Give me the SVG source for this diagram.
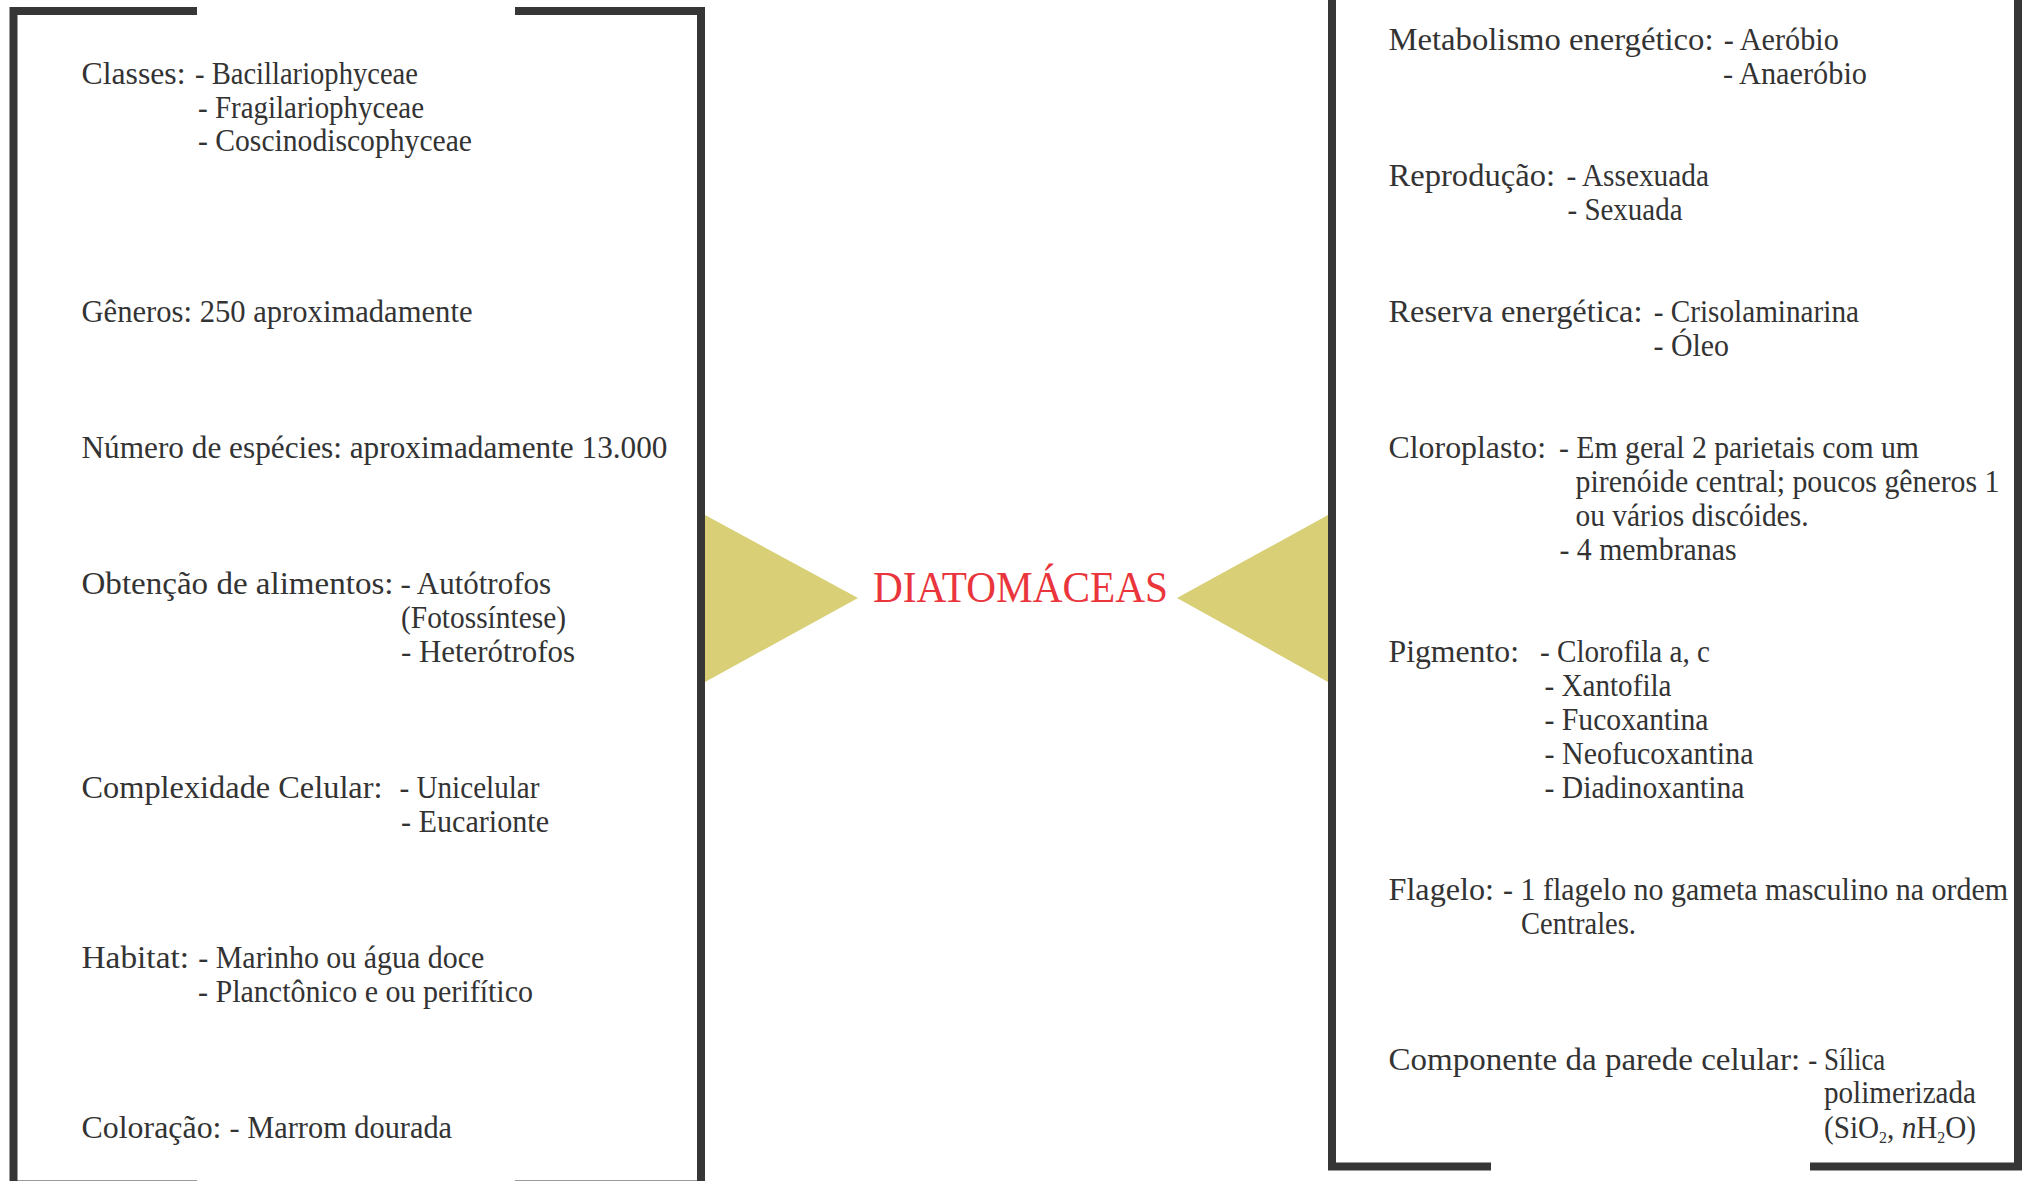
<svg xmlns="http://www.w3.org/2000/svg" width="2029" height="1181" viewBox="0 0 2029 1181">
<style>
.bk{fill:none;stroke:#363636;stroke-width:8;stroke-linejoin:miter}
.t{font-family:"Liberation Serif","Times New Roman",serif;font-size:31px;fill:#333333}
.ttl{font-family:"Liberation Serif","Times New Roman",serif;font-size:44px;fill:#e9353b}
.arr{fill:#d8cf76}
</style>
<rect width="2029" height="1181" fill="#ffffff"/>
<g id="connectors">
<polygon class="arr" points="705,515 858,598 705,682"/>
<polygon class="arr" points="1328,515 1177,598 1328,682"/>
</g>
<g id="left-panel">
<path class="bk" d="M197,11 H13.5 V1184.5 H197"/>
<path class="bk" d="M515,11 H701 V1184.5 H515"/>
<text class="t" x="81.5" y="84" textLength="104" lengthAdjust="spacingAndGlyphs">Classes:</text>
<text class="t" x="195" y="84" textLength="223" lengthAdjust="spacingAndGlyphs">- Bacillariophyceae</text>
<text class="t" x="198" y="117.5" textLength="226" lengthAdjust="spacingAndGlyphs">- Fragilariophyceae</text>
<text class="t" x="198" y="151" textLength="274" lengthAdjust="spacingAndGlyphs">- Coscinodiscophyceae</text>
<text class="t" x="81.5" y="322" textLength="391" lengthAdjust="spacingAndGlyphs">Gêneros: 250 aproximadamente</text>
<text class="t" x="81.5" y="457.5" textLength="586" lengthAdjust="spacingAndGlyphs">Número de espécies: aproximadamente 13.000</text>
<text class="t" x="81.5" y="593.5" textLength="312" lengthAdjust="spacingAndGlyphs">Obtenção de alimentos:</text>
<text class="t" x="400.5" y="593.5" textLength="150.5" lengthAdjust="spacingAndGlyphs">- Autótrofos</text>
<text class="t" x="401" y="627.5" textLength="165" lengthAdjust="spacingAndGlyphs">(Fotossíntese)</text>
<text class="t" x="401" y="662" textLength="174" lengthAdjust="spacingAndGlyphs">- Heterótrofos</text>
<text class="t" x="81.5" y="798" textLength="301" lengthAdjust="spacingAndGlyphs">Complexidade Celular:</text>
<text class="t" x="399.5" y="798" textLength="140" lengthAdjust="spacingAndGlyphs">- Unicelular</text>
<text class="t" x="401" y="832" textLength="148" lengthAdjust="spacingAndGlyphs">- Eucarionte</text>
<text class="t" x="81.5" y="968" textLength="107.5" lengthAdjust="spacingAndGlyphs">Habitat:</text>
<text class="t" x="198.3" y="968" textLength="286" lengthAdjust="spacingAndGlyphs">- Marinho ou água doce</text>
<text class="t" x="198" y="1002" textLength="335" lengthAdjust="spacingAndGlyphs">- Planctônico e ou perifítico</text>
<text class="t" x="81.5" y="1138" textLength="140" lengthAdjust="spacingAndGlyphs">Coloração:</text>
<text class="t" x="229.6" y="1138" textLength="222.5" lengthAdjust="spacingAndGlyphs">- Marrom dourada</text>
</g>
<g id="center-title">
<text class="ttl" x="873" y="602" textLength="295" lengthAdjust="spacingAndGlyphs">DIATOMÁCEAS</text>
</g>
<g id="right-panel">
<path class="bk" d="M1332,0 V1166.5 H1491"/>
<path class="bk" d="M1810,1166.5 H2018 V0"/>
<text class="t" x="1388.5" y="50" textLength="325" lengthAdjust="spacingAndGlyphs">Metabolismo energético:</text>
<text class="t" x="1723.8" y="50" textLength="115" lengthAdjust="spacingAndGlyphs">- Aeróbio</text>
<text class="t" x="1723" y="84" textLength="144" lengthAdjust="spacingAndGlyphs">- Anaeróbio</text>
<text class="t" x="1388.5" y="186" textLength="166.5" lengthAdjust="spacingAndGlyphs">Reprodução:</text>
<text class="t" x="1566.4" y="186" textLength="142.6" lengthAdjust="spacingAndGlyphs">- Assexuada</text>
<text class="t" x="1567.5" y="220" textLength="115" lengthAdjust="spacingAndGlyphs">- Sexuada</text>
<text class="t" x="1388.5" y="322" textLength="254" lengthAdjust="spacingAndGlyphs">Reserva energética:</text>
<text class="t" x="1653.7" y="322" textLength="205.3" lengthAdjust="spacingAndGlyphs">- Crisolaminarina</text>
<text class="t" x="1653.5" y="356" textLength="75.5" lengthAdjust="spacingAndGlyphs">- Óleo</text>
<text class="t" x="1388.5" y="458" textLength="157.5" lengthAdjust="spacingAndGlyphs">Cloroplasto:</text>
<text class="t" x="1559" y="458" textLength="360" lengthAdjust="spacingAndGlyphs">- Em geral 2 parietais com um</text>
<text class="t" x="1575.5" y="492" textLength="424" lengthAdjust="spacingAndGlyphs">pirenóide central; poucos gêneros 1</text>
<text class="t" x="1575.5" y="526" textLength="233" lengthAdjust="spacingAndGlyphs">ou vários discóides.</text>
<text class="t" x="1559.5" y="560" textLength="177" lengthAdjust="spacingAndGlyphs">- 4 membranas</text>
<text class="t" x="1388.5" y="662" textLength="130.5" lengthAdjust="spacingAndGlyphs">Pigmento:</text>
<text class="t" x="1540" y="662" textLength="170" lengthAdjust="spacingAndGlyphs">- Clorofila a, c</text>
<text class="t" x="1544.5" y="696" textLength="127" lengthAdjust="spacingAndGlyphs">- Xantofila</text>
<text class="t" x="1544.5" y="729.5" textLength="164" lengthAdjust="spacingAndGlyphs">- Fucoxantina</text>
<text class="t" x="1544.5" y="763.5" textLength="209" lengthAdjust="spacingAndGlyphs">- Neofucoxantina</text>
<text class="t" x="1544.5" y="797.5" textLength="200" lengthAdjust="spacingAndGlyphs">- Diadinoxantina</text>
<text class="t" x="1388.5" y="900" textLength="105.5" lengthAdjust="spacingAndGlyphs">Flagelo:</text>
<text class="t" x="1503" y="900" textLength="505" lengthAdjust="spacingAndGlyphs">- 1 flagelo no gameta masculino na ordem</text>
<text class="t" x="1521" y="934" textLength="115" lengthAdjust="spacingAndGlyphs">Centrales.</text>
<text class="t" x="1388.5" y="1069.5" textLength="411.7" lengthAdjust="spacingAndGlyphs">Componente da parede celular:</text>
<text class="t" x="1808.3" y="1069.5" textLength="77" lengthAdjust="spacingAndGlyphs">- Sílica</text>
<text class="t" x="1824" y="1103" textLength="152" lengthAdjust="spacingAndGlyphs">polimerizada</text>
<text class="t" x="1824" y="1137.5" textLength="152" lengthAdjust="spacingAndGlyphs">(SiO<tspan font-size="17" dy="5">2</tspan><tspan dy="-5">, </tspan><tspan font-style="italic">n</tspan>H<tspan font-size="17" dy="5">2</tspan><tspan dy="-5">O)</tspan></text>
</g>
</svg>
